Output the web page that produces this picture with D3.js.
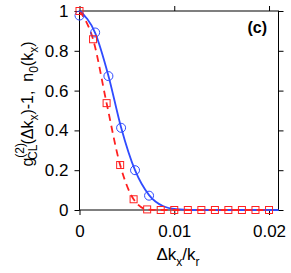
<!DOCTYPE html>
<html>
<head>
<meta charset="utf-8">
<script src="https://cdn.jsdelivr.net/npm/d3@7"></script>
<style>
  body { margin: 0; background: #fff; }
  svg { font-family: "Liberation Sans", Arial, sans-serif; }
  text { white-space: pre; }
</style>
</head>
<body>
<svg id="plot" width="291" height="273"></svg>
<script>
// measured points (circles) and fit line
const circleX = [0, 0.00165, 0.00305, 0.00439, 0.00586, 0.00734];
const circleY = [0.977, 0.892, 0.673, 0.413, 0.200, 0.072];
const fitX = [0, 0.00165, 0.00305, 0.00439, 0.00586, 0.00734, 0.0088, 0.0102, 0.0118, 0.021];
const fitY = [1, 0.89, 0.675, 0.415, 0.2, 0.075, 0.02, 0.004, 0, 0];
// squares with dashed line
const squareX = [0, 0.00143, 0.00286, 0.00429, 0.00571, 0.00714, 0.00857, 0.01,
  0.01143, 0.01286, 0.01429, 0.01571, 0.01714, 0.01857, 0.02];
const squareY = [1, 0.858, 0.537, 0.226, 0.054, 0.003, 0, 0, 0, 0, 0, 0, 0, 0, 0];
const xTicks = [0, 0.01, 0.02];
const xTickLabels = ['0', '0.01', '0.02'];
const yTicks = [0, 0.2, 0.4, 0.6, 0.8, 1];
const yTickLabels = ['0', '0.2', '0.4', '0.6', '0.8', '1'];

const svg = d3.select('#plot');
const pLeft = 79.5, pRight = 278.5, pTop = 11, pBottom = 210;

const xScale = d3.scaleLinear().domain([0, 0.021]).range([pLeft, pRight]);
const yScale = d3.scaleLinear().domain([0, 1]).range([pBottom, pTop]);

const blue = '#2f4bff';
const red = '#ff2020';

// axes, ticks outward
svg.append('g')
  .attr('transform', 'translate(0,' + pBottom + ')')
  .call(d3.axisBottom(xScale).tickValues(xTicks).tickSize(5).tickFormat((d, i) => xTickLabels[i]))
  .call(g => g.selectAll('text').attr('font-size', 17).attr('fill', '#000')
    .attr('y', 27).attr('dy', 0));
svg.append('g')
  .attr('transform', 'translate(0,' + pTop + ')')
  .call(d3.axisTop(xScale).tickValues(xTicks).tickSize(5).tickFormat(''));
svg.append('g')
  .attr('transform', 'translate(' + pLeft + ',0)')
  .call(d3.axisLeft(yScale).tickValues(yTicks).tickSize(5).tickFormat((d, i) => yTickLabels[i]))
  .call(g => g.selectAll('text').attr('font-size', 17).attr('fill', '#000').attr('x', -11));
svg.append('g')
  .attr('transform', 'translate(' + pRight + ',0)')
  .call(d3.axisRight(yScale).tickValues(yTicks).tickSize(5).tickFormat(''));
svg.selectAll('.tick line').attr('stroke', '#000');
svg.selectAll('.domain').remove();
svg.append('rect')
  .attr('x', pLeft).attr('y', pTop)
  .attr('width', pRight - pLeft).attr('height', pBottom - pTop)
  .attr('fill', 'none').attr('stroke', '#000').attr('stroke-width', 1);

// fit line
const fitLine = d3.line()
  .x(i => xScale(fitX[i]))
  .y(i => yScale(fitY[i]))
  .curve(d3.curveMonotoneX);
svg.append('path')
  .attr('d', fitLine(d3.range(fitX.length)))
  .attr('fill', 'none').attr('stroke', blue).attr('stroke-width', 1.8);

// dashed red line
const sqLine = d3.line()
  .x(i => xScale(squareX[i]))
  .y(i => yScale(squareY[i]))
  .curve(d3.curveMonotoneX);
svg.append('path')
  .attr('d', sqLine(d3.range(squareX.length)))
  .attr('fill', 'none').attr('stroke', red).attr('stroke-width', 1.8)
  .attr('stroke-dasharray', '7,5');

// circles
svg.selectAll('circle.m')
  .data(d3.range(circleX.length))
  .enter()
  .append('circle')
  .attr('class', 'm')
  .attr('cx', i => xScale(circleX[i]))
  .attr('cy', i => yScale(circleY[i]))
  .attr('r', 4.5)
  .attr('fill', 'none').attr('stroke', blue).attr('stroke-width', 1);

// squares
const s = 7;
svg.selectAll('rect.m')
  .data(d3.range(squareX.length))
  .enter()
  .append('rect')
  .attr('class', 'm')
  .attr('x', i => xScale(squareX[i]) - s / 2)
  .attr('y', i => yScale(squareY[i]) - s / 2)
  .attr('width', s).attr('height', s)
  .attr('fill', 'none').attr('stroke', red).attr('stroke-width', 1);

// panel label
svg.append('text')
  .attr('x', 267).attr('y', 33)
  .attr('text-anchor', 'end')
  .attr('font-size', 16).attr('font-weight', 'bold')
  .text('(c)');

// x label
const xl = svg.append('text')
  .attr('x', 178).attr('y', 260)
  .attr('text-anchor', 'middle')
  .attr('font-size', 17);
xl.append('tspan').text('Δk');
xl.append('tspan').attr('font-size', 12).attr('dy', 6).text('x');
xl.append('tspan').attr('dy', -6).text('/k');
xl.append('tspan').attr('font-size', 12).attr('dy', 6).text('r');

// y label
const yl = svg.append('text')
  .attr('transform', 'translate(33,104) rotate(-90)')
  .attr('text-anchor', 'middle')
  .attr('font-size', 16);
yl.append('tspan').text('g');
yl.append('tspan').attr('font-size', 12).attr('dy', -9).text('(2)');
yl.append('tspan').attr('font-size', 12).attr('dx', -17).attr('dy', 13).text('CL');
yl.append('tspan').attr('dy', -4).text('(Δk');
yl.append('tspan').attr('font-size', 12).attr('dy', 5).text('x');
yl.append('tspan').attr('dy', -5).text(')-1,  n');
yl.append('tspan').attr('font-size', 12).attr('dy', 5).text('0');
yl.append('tspan').attr('dy', -5).text('(k');
yl.append('tspan').attr('font-size', 12).attr('dy', 5).text('x');
yl.append('tspan').attr('dy', -5).text(')');
</script>
</body>
</html>
